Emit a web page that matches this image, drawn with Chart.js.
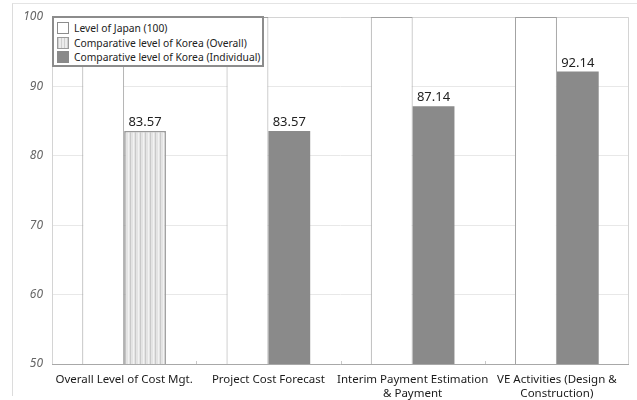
<!DOCTYPE html>
<html>
<head>
<meta charset="utf-8">
<script src="https://cdn.jsdelivr.net/npm/chart.js@4.4.1/dist/chart.umd.min.js"></script>
<style>
  html, body { margin: 0; padding: 0; background: #fff; }
  #wrap { position: relative; width: 637px; height: 400px; }
  #frame { position: absolute; left: 12px; top: 3px; right: 0; bottom: 4px;
           border-left: 1px solid #dcdcdc; border-top: 1px solid #e4e4e4; }
  #legend { position: absolute; left: 52px; top: 16px; width: 208px; height: 47px;
            border: 2px solid #8c8c8c; background: #fff; font-family: "Noto Sans", sans-serif;
            font-size: 10.3px; color: #222; padding: 0; box-sizing: content-box; }
  #legend .row { position: absolute; left: 3px; height: 14px; line-height: 14px; white-space: nowrap; }
  #legend .sw { display: inline-block; width: 12px; height: 12px; vertical-align: -2px;
                margin-right: 5px; box-sizing: border-box; }
</style>
</head>
<body>
<div id="wrap">
  <div id="frame"></div>
  <canvas id="c" width="637" height="400"></canvas>
  <div id="legend"></div>
</div>
<script>
// Categories and values
const categories = [
  "Overall Level of Cost Mgt.",
  "Project Cost Forecast",
  ["Interim Payment Estimation", "& Payment"],
  ["VE Activities (Design &", "Construction)"]
];
const japanLevel = [100, 100, 100, 100];
const koreaOverall = [83.57, null, null, null];
const koreaIndividual = [null, 83.57, 87.14, 92.14];
const seriesNames = [
  "Level of Japan (100)",
  "Comparative level of Korea (Overall)",
  "Comparative level of Korea (Individual)"
];
const yTicks = [50, 60, 70, 80, 90, 100];

const FONT = '"Noto Sans", sans-serif';

// Vertical-stripe fill for the overall bar
function stripePattern() {
  const p = document.createElement('canvas');
  p.width = 5; p.height = 4;
  const g = p.getContext('2d');
  g.fillStyle = '#e4e4e4';
  g.fillRect(0, 0, 5, 4);
  g.fillStyle = '#c9c9c9';
  g.fillRect(0, 0, 1, 4);
  g.fillStyle = '#f2f2f2';
  g.fillRect(3, 0, 1, 4);
  return document.getElementById('c').getContext('2d').createPattern(p, 'repeat');
}
const stripes = stripePattern();

// Frame, category ticks and value labels
const decorPlugin = {
  id: 'decor',
  beforeDatasetsDraw(chart) {
    const { ctx, chartArea: a } = chart;
    ctx.save();
    ctx.strokeStyle = '#d4d4d4';
    ctx.lineWidth = 1;
    ctx.beginPath();
    ctx.moveTo(a.left + 0.5, a.bottom);
    ctx.lineTo(a.left + 0.5, a.top + 0.5);
    ctx.lineTo(a.right - 0.5, a.top + 0.5);
    ctx.lineTo(a.right - 0.5, a.bottom);
    ctx.stroke();
    ctx.restore();
  },
  afterDatasetsDraw(chart) {
    const { ctx, chartArea: a } = chart;
    const xs = chart.scales.x;
    ctx.save();
    // bottom axis line
    ctx.strokeStyle = '#a8a8a8';
    ctx.beginPath();
    ctx.moveTo(a.left, a.bottom + 0.5);
    ctx.lineTo(a.right, a.bottom + 0.5);
    ctx.stroke();
    // short ticks between categories
    ctx.strokeStyle = '#c8c8c8';
    for (let i = 0; i < categories.length - 1; i++) {
      const x = Math.round((xs.getPixelForTick(i) + xs.getPixelForTick(i + 1)) / 2) + 0.5;
      ctx.beginPath();
      ctx.moveTo(x, a.bottom);
      ctx.lineTo(x, a.bottom - 3);
      ctx.stroke();
    }
    // value labels on the Korea bars
    ctx.fillStyle = '#222';
    ctx.font = '13px ' + FONT;
    ctx.textAlign = 'center';
    ctx.textBaseline = 'bottom';
    [1, 2].forEach(di => {
      const meta = chart.getDatasetMeta(di);
      chart.data.datasets[di].data.forEach((v, i) => {
        if (v == null) return;
        const el = meta.data[i];
        ctx.fillText(v.toFixed(2), el.x, el.y - 2);
      });
    });
    ctx.restore();
  }
};

new Chart(document.getElementById('c'), {
  type: 'bar',
  data: {
    labels: categories,
    datasets: [
      { label: seriesNames[0], data: japanLevel, stack: 'jp',
        backgroundColor: '#ffffff', borderColor: '#a0a0a0', borderWidth: 1, borderSkipped: 'bottom' },
      { label: seriesNames[1], data: koreaOverall, stack: 'kr',
        backgroundColor: stripes, borderColor: '#9a9a9a', borderWidth: 1.5, borderSkipped: 'bottom' },
      { label: seriesNames[2], data: koreaIndividual, stack: 'kr',
        backgroundColor: '#8a8a8a', borderColor: '#8a8a8a', borderWidth: 0 }
    ]
  },
  options: {
    responsive: false,
    animation: false,
    layout: { padding: { top: 17, right: 8, left: 0, bottom: 0 } },
    datasets: { bar: { categoryPercentage: 0.58, barPercentage: 1 } },
    plugins: { legend: { display: false }, tooltip: { enabled: false } },
    scales: {
      x: {
        stacked: true,
        afterFit(s) { s.height = 36; },
        grid: { display: false },
        border: { display: false },
        ticks: { color: '#1a1a1a', font: { family: FONT, size: 11.5, lineHeight: 1.2 }, maxRotation: 0, autoSkip: false, padding: 1 }
      },
      y: {
        stacked: true,
        min: 50, max: 100,
        afterBuildTicks(s) { s.ticks = yTicks.map(v => ({ value: v })); },
        afterFit(s) { s.width = 52; },
        grid: { color: '#e8e8e8', drawTicks: false },
        border: { display: false },
        ticks: { color: '#666', padding: 9, font: { family: FONT, size: 12, style: 'italic' } }
      }
    }
  },
  plugins: [decorPlugin]
});

// Legend box drawn from the series names
const legend = document.getElementById('legend');
const swatches = [
  'background:#fff;border:1.5px solid #8c8c8c;',
  'background:repeating-linear-gradient(90deg,#cfcfcf 0 1px,#ececec 1px 3px);border:1.5px solid #9a9a9a;',
  'background:#8a8a8a;'
];
seriesNames.forEach((n, i) => {
  const r = document.createElement('div');
  r.className = 'row';
  r.style.top = (3 + i * 14.5) + 'px';
  const s = document.createElement('span');
  s.className = 'sw';
  s.style.cssText = swatches[i];
  r.appendChild(s);
  r.appendChild(document.createTextNode(n));
  legend.appendChild(r);
});
</script>
</body>
</html>
